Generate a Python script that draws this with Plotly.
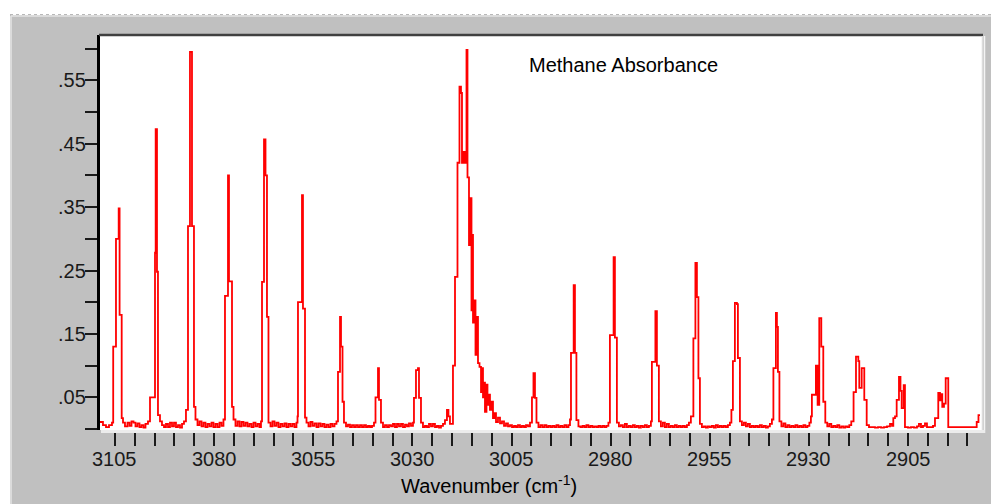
import plotly.graph_objects as go

# ---- data (wavenumber in cm-1, absorbance) ----
WAVENUMBER = [
    3108.78, 3108.03, 3107.27, 3106.51, 3105.76, 3105.45, 3104.75, 3104.07, 3103.84, 3103.31,
    3102.98, 3102.48, 3101.85, 3101.34, 3100.84, 3100.33, 3099.83, 3099.33, 3098.82, 3098.32,
    3097.81, 3097.31, 3096.68, 3096.17, 3094.91, 3094.74, 3094.41, 3094.16, 3093.65, 3093.15,
    3092.64, 3092.14, 3091.63, 3091.13, 3090.62, 3090.12, 3089.62, 3089.11, 3088.61, 3088.10,
    3087.60, 3087.10, 3086.59, 3086.09, 3085.58, 3085.08, 3084.70, 3084.19, 3083.69, 3083.18,
    3082.68, 3082.18, 3081.67, 3081.17, 3080.66, 3080.16, 3079.65, 3079.15, 3078.64, 3078.14,
    3077.64, 3077.26, 3076.50, 3076.25, 3075.49, 3075.11, 3074.61, 3074.10, 3073.60, 3073.10,
    3072.59, 3072.09, 3071.58, 3071.08, 3070.57, 3070.07, 3069.56, 3069.06, 3068.56, 3068.18,
    3067.92, 3067.42, 3067.04, 3066.67, 3066.29, 3065.78, 3065.28, 3064.77, 3064.27, 3063.77,
    3063.26, 3062.76, 3062.25, 3061.75, 3061.24, 3060.74, 3060.24, 3059.73, 3059.23, 3058.97,
    3058.85, 3057.84, 3057.59, 3057.08, 3056.70, 3056.20, 3055.70, 3055.19, 3054.69, 3054.18,
    3053.68, 3053.17, 3052.67, 3052.17, 3051.66, 3051.16, 3050.65, 3050.15, 3049.64, 3049.14,
    3048.76, 3048.25, 3048.00, 3047.62, 3047.25, 3046.74, 3046.24, 3045.73, 3045.23, 3044.72,
    3044.22, 3043.72, 3043.21, 3042.71, 3042.20, 3041.70, 3041.19, 3040.69, 3040.19, 3039.68,
    3039.30, 3038.67, 3038.42, 3037.92, 3037.41, 3036.91, 3036.40, 3035.90, 3035.39, 3034.89,
    3034.39, 3033.88, 3033.38, 3032.87, 3032.37, 3031.86, 3031.36, 3030.86, 3030.35, 3029.85,
    3029.60, 3029.09, 3028.59, 3028.33, 3027.83, 3027.33, 3026.82, 3026.32, 3025.81, 3025.31,
    3024.81, 3024.30, 3023.80, 3023.29, 3022.79, 3022.28, 3021.78, 3021.28, 3020.90, 3020.52,
    3019.76, 3019.25, 3018.62, 3018.12, 3017.74, 3017.49, 3017.11, 3016.73, 3016.35, 3016.10,
    3015.72, 3015.34, 3015.09, 3014.96, 3014.71, 3014.33, 3014.08, 3013.70, 3013.45, 3013.07,
    3012.69, 3012.44, 3012.19, 3011.94, 3011.69, 3011.31, 3011.06, 3010.68, 3010.43, 3010.05,
    3009.67, 3009.29, 3008.91, 3008.41, 3007.90, 3007.40, 3006.89, 3006.39, 3005.89, 3005.38,
    3004.88, 3004.37, 3003.87, 3003.37, 3002.86, 3002.36, 3001.85, 3001.35, 3000.84, 3000.34,
    2999.84, 2999.46, 2999.08, 2998.70, 2998.20, 2997.69, 2997.19, 2996.68, 2996.18, 2995.68,
    2995.17, 2994.67, 2994.16, 2993.66, 2993.15, 2992.65, 2992.15, 2991.64, 2991.14, 2990.63,
    2990.25, 2990.00, 2989.32, 2989.00, 2988.63, 2988.12, 2987.62, 2987.11, 2986.61, 2986.11,
    2985.60, 2985.10, 2984.59, 2984.09, 2983.58, 2983.08, 2982.58, 2982.07, 2981.57, 2981.06,
    2980.56, 2980.18, 2979.25, 2978.92, 2978.42, 2977.91, 2977.41, 2976.90, 2976.40, 2975.90,
    2975.39, 2974.89, 2974.38, 2973.88, 2973.37, 2972.87, 2972.37, 2971.86, 2971.36, 2970.85,
    2970.35, 2969.84, 2969.59, 2968.71, 2968.33, 2967.83, 2967.32, 2966.82, 2966.31, 2965.81,
    2965.30, 2964.80, 2964.29, 2963.79, 2963.29, 2962.78, 2962.28, 2961.77, 2961.27, 2960.76,
    2960.26, 2959.76, 2959.13, 2958.62, 2958.24, 2957.86, 2957.48, 2956.98, 2956.47, 2955.97,
    2955.47, 2954.96, 2954.46, 2953.95, 2953.45, 2952.94, 2952.44, 2951.93, 2951.43, 2950.93,
    2950.42, 2949.92, 2949.54, 2949.16, 2948.66, 2948.15, 2947.90, 2947.39, 2946.89, 2946.38,
    2945.88, 2945.38, 2944.87, 2944.37, 2943.86, 2943.36, 2942.85, 2942.35, 2941.85, 2941.34,
    2940.84, 2940.33, 2939.83, 2939.32, 2938.95, 2938.32, 2938.06, 2937.81, 2937.43, 2936.93,
    2936.42, 2935.92, 2935.41, 2934.91, 2934.41, 2933.90, 2933.40, 2932.89, 2932.39, 2931.88,
    2931.38, 2930.88, 2930.37, 2929.87, 2929.49, 2929.24, 2928.23, 2927.80, 2927.38, 2926.87,
    2926.37, 2925.86, 2925.36, 2924.85, 2924.35, 2923.85, 2923.34, 2922.84, 2922.33, 2921.83,
    2921.32, 2920.82, 2920.31, 2919.81, 2919.31, 2918.73, 2918.12, 2917.54, 2917.29, 2916.68,
    2916.03, 2915.42, 2914.84, 2914.08, 2913.33, 2912.57, 2911.81, 2911.06, 2910.30, 2909.54,
    2909.04, 2908.71, 2908.28, 2907.86, 2907.28, 2906.90, 2906.60, 2906.09, 2905.77, 2905.01,
    2904.25, 2903.50, 2902.74, 2902.24, 2901.73, 2901.23, 2900.72, 2900.22, 2899.46, 2898.70,
    2898.20, 2897.37, 2896.94, 2896.69, 2896.36, 2895.93, 2895.50, 2894.85, 2893.92, 2892.91,
    2891.90, 2890.89, 2889.88, 2888.87, 2887.68, 2887.23, 2886.85,
]

ABSORBANCE = [
    0.011, 0.006, 0.003, 0.006, 0.010, 0.130, 0.300, 0.348, 0.180, 0.017,
    0.010, 0.004, 0.010, 0.005, 0.012, 0.010, 0.004, 0.009, 0.003, 0.006,
    0.002, 0.008, 0.012, 0.050, 0.278, 0.473, 0.248, 0.022, 0.012, 0.006,
    0.003, 0.008, 0.003, 0.010, 0.004, 0.010, 0.003, 0.006, 0.002, 0.008,
    0.012, 0.030, 0.320, 0.595, 0.320, 0.035, 0.015, 0.006, 0.012, 0.004,
    0.010, 0.003, 0.008, 0.004, 0.010, 0.003, 0.008, 0.003, 0.010, 0.005,
    0.015, 0.210, 0.400, 0.233, 0.035, 0.015, 0.005, 0.012, 0.004, 0.011,
    0.005, 0.010, 0.004, 0.008, 0.003, 0.010, 0.004, 0.008, 0.003, 0.012,
    0.232, 0.457, 0.400, 0.177, 0.010, 0.004, 0.012, 0.005, 0.010, 0.003,
    0.008, 0.004, 0.009, 0.003, 0.008, 0.004, 0.008, 0.003, 0.010, 0.020,
    0.200, 0.369, 0.190, 0.018, 0.010, 0.004, 0.011, 0.005, 0.009, 0.003,
    0.009, 0.004, 0.008, 0.003, 0.007, 0.003, 0.008, 0.004, 0.008, 0.012,
    0.090, 0.177, 0.130, 0.043, 0.010, 0.004, 0.007, 0.003, 0.006, 0.003,
    0.006, 0.003, 0.006, 0.003, 0.006, 0.003, 0.005, 0.003, 0.005, 0.010,
    0.050, 0.096, 0.046, 0.010, 0.003, 0.006, 0.003, 0.006, 0.004, 0.008,
    0.003, 0.008, 0.004, 0.008, 0.003, 0.007, 0.004, 0.009, 0.005, 0.010,
    0.049, 0.093, 0.096, 0.049, 0.010, 0.003, 0.005, 0.003, 0.008, 0.004,
    0.008, 0.003, 0.005, 0.002, 0.005, 0.008, 0.014, 0.030, 0.020, 0.008,
    0.100, 0.240, 0.420, 0.540, 0.530, 0.420, 0.437, 0.420, 0.598, 0.397,
    0.290, 0.364, 0.187, 0.306, 0.168, 0.203, 0.117, 0.177, 0.104, 0.098,
    0.058, 0.096, 0.050, 0.073, 0.027, 0.070, 0.038, 0.054, 0.030, 0.043,
    0.017, 0.025, 0.011, 0.018, 0.009, 0.012, 0.005, 0.009, 0.004, 0.006,
    0.003, 0.005, 0.003, 0.006, 0.003, 0.005, 0.003, 0.006, 0.004, 0.010,
    0.050, 0.088, 0.049, 0.010, 0.003, 0.006, 0.003, 0.006, 0.003, 0.005,
    0.003, 0.005, 0.003, 0.006, 0.003, 0.005, 0.003, 0.006, 0.003, 0.006,
    0.015, 0.120, 0.227, 0.120, 0.014, 0.004, 0.003, 0.005, 0.003, 0.006,
    0.003, 0.005, 0.003, 0.004, 0.003, 0.005, 0.003, 0.005, 0.003, 0.005,
    0.010, 0.148, 0.271, 0.144, 0.010, 0.004, 0.006, 0.003, 0.008, 0.003,
    0.005, 0.003, 0.006, 0.003, 0.005, 0.002, 0.005, 0.003, 0.006, 0.003,
    0.005, 0.012, 0.106, 0.186, 0.100, 0.012, 0.004, 0.010, 0.003, 0.008,
    0.003, 0.005, 0.003, 0.006, 0.003, 0.005, 0.003, 0.005, 0.003, 0.006,
    0.010, 0.020, 0.143, 0.262, 0.208, 0.080, 0.008, 0.003, 0.004, 0.002,
    0.004, 0.003, 0.005, 0.002, 0.006, 0.003, 0.005, 0.003, 0.005, 0.003,
    0.006, 0.010, 0.030, 0.107, 0.199, 0.197, 0.112, 0.012, 0.006, 0.010,
    0.004, 0.008, 0.003, 0.005, 0.003, 0.005, 0.003, 0.006, 0.003, 0.005,
    0.002, 0.004, 0.008, 0.015, 0.096, 0.183, 0.161, 0.090, 0.012, 0.004,
    0.009, 0.003, 0.006, 0.003, 0.005, 0.003, 0.006, 0.003, 0.005, 0.003,
    0.006, 0.003, 0.005, 0.010, 0.020, 0.054, 0.100, 0.038, 0.175, 0.130,
    0.043, 0.010, 0.004, 0.008, 0.003, 0.005, 0.003, 0.006, 0.002, 0.004,
    0.002, 0.004, 0.003, 0.006, 0.012, 0.058, 0.114, 0.107, 0.065, 0.096,
    0.046, 0.006, 0.003, 0.003, 0.002, 0.003, 0.002, 0.003, 0.004, 0.008,
    0.005, 0.017, 0.020, 0.046, 0.082, 0.060, 0.033, 0.069, 0.003, 0.002,
    0.003, 0.002, 0.004, 0.008, 0.003, 0.005, 0.009, 0.003, 0.003, 0.005,
    0.017, 0.057, 0.045, 0.055, 0.035, 0.040, 0.080, 0.003, 0.003, 0.003,
    0.003, 0.003, 0.003, 0.003, 0.011, 0.022, 0.022,
]

# labelled ticks (every 25 cm-1 / every 0.1 absorbance); unlabelled ticks every 5 cm-1 / 0.05
X_TICK_VALUES = [3105, 3080, 3055, 3030, 3005, 2980, 2955, 2930, 2905]
X_TICK_LABELS = ["3105", "3080", "3055", "3030", "3005", "2980", "2955", "2930", "2905"]
X_MINOR_STEP = 5
Y_TICK_VALUES = [0.05, 0.15, 0.25, 0.35, 0.45, 0.55]
Y_TICK_LABELS = [".05", ".15", ".25", ".35", ".45", ".55"]
Y_MINOR_STEP = 0.05

TITLE = "Methane Absorbance"
X_TITLE = "Wavenumber (cm<sup>-1</sup>)"

FONT = "Arial, 'Liberation Sans', sans-serif"
W, H = 991, 504
L, R, T, B = 100, 9, 35, 74
PW, PH = W - L - R, H - T - B


def px(xp):
    return (xp - L) / PW


def py(yp):
    return (H - B - yp) / PH


fig = go.Figure()
fig.add_trace(go.Scatter(
    x=WAVENUMBER, y=ABSORBANCE, mode="lines",
    line=dict(color="#ff0000", width=1.8, shape="hv"),
    hoverinfo="skip", showlegend=False,
))

shapes = [
    # white page margins (top and left)
    dict(type="rect", xref="paper", yref="paper", x0=px(0), x1=px(W), y0=py(15), y1=py(0),
         fillcolor="white", line=dict(width=0), layer="below"),
    dict(type="rect", xref="paper", yref="paper", x0=px(0), x1=px(10), y0=py(H), y1=py(0),
         fillcolor="white", line=dict(width=0), layer="below"),
    dict(type="line", xref="paper", yref="paper", x0=px(10), x1=px(W), y0=py(14.5), y1=py(14.5),
         line=dict(color="#b8b8b8", width=1, dash="dot"), layer="below"),
    dict(type="line", xref="paper", yref="paper", x0=px(11), x1=px(W), y0=py(16), y1=py(16),
         line=dict(color="#e4e4e4", width=1.5), layer="below"),
    dict(type="line", xref="paper", yref="paper", x0=px(11), x1=px(11), y0=py(H), y1=py(16),
         line=dict(color="#e4e4e4", width=1.5), layer="below"),
    # plot frame: dark top, light right / bottom
    dict(type="line", xref="paper", yref="paper", x0=px(99), x1=px(983), y0=1, y1=1,
         line=dict(color="#404040", width=2.5), layer="above"),
    dict(type="line", xref="paper", yref="paper", x0=px(982.5), x1=px(982.5), y0=py(433), y1=py(36),
         line=dict(color="#dcdcdc", width=1.5), layer="above"),
    dict(type="line", xref="paper", yref="paper", x0=px(984.5), x1=px(984.5), y0=py(433), y1=py(36),
         line=dict(color="#f4f4f4", width=1.5), layer="above"),
    dict(type="line", xref="paper", yref="paper", x0=px(101), x1=px(985), y0=py(431.5), y1=py(431.5),
         line=dict(color="#ececec", width=3), layer="above"),
]

annotations = [
    dict(text=TITLE, xref="paper", yref="paper", x=px(623.5), y=py(65),
         xanchor="center", yanchor="middle", showarrow=False,
         font=dict(family=FONT, size=20, color="#000000")),
    dict(text=X_TITLE, xref="paper", yref="paper", x=px(489), y=py(484),
         xanchor="center", yanchor="middle", showarrow=False,
         font=dict(family=FONT, size=20, color="#000000")),
]
# tick labels placed at their data values through the axes
for v, t in zip(X_TICK_VALUES, X_TICK_LABELS):
    annotations.append(dict(text=t, xref="x", yref="paper", x=v, y=py(459),
                            xanchor="center", yanchor="middle", showarrow=False,
                            font=dict(family=FONT, size=20, color="#1a1a1a")))
for v, t in zip(Y_TICK_VALUES, Y_TICK_LABELS):
    annotations.append(dict(text=t, xref="paper", yref="y", x=px(87.5), y=v,
                            xanchor="right", yanchor="middle", showarrow=False,
                            font=dict(family=FONT, size=20, color="#1a1a1a")))

fig.update_layout(
    width=W, height=H,
    margin=dict(l=L, r=R, t=T, b=B, pad=0),
    paper_bgcolor="#c0c0c0",
    plot_bgcolor="white",
    font=dict(family=FONT, size=20, color="#1a1a1a"),
    showlegend=False,
    shapes=shapes,
    annotations=annotations,
    xaxis=dict(
        range=[3108.78, 2886.34],
        tickmode="array", tickvals=X_TICK_VALUES, showticklabels=False,
        ticks="outside", ticklen=15, tickwidth=2, tickcolor="#1a1a1a",
        minor=dict(ticks="outside", ticklen=15, tickwidth=2, tickcolor="#1a1a1a",
                   tick0=X_TICK_VALUES[0], dtick=X_MINOR_STEP, showgrid=False),
        showgrid=False, zeroline=False, showline=False,
        fixedrange=True,
    ),
    yaxis=dict(
        range=[-0.0016, 0.6215],
        tickmode="array", tickvals=Y_TICK_VALUES, showticklabels=False,
        ticks="outside", ticklen=12, tickwidth=2, tickcolor="#1a1a1a",
        minor=dict(ticks="outside", ticklen=12, tickwidth=2, tickcolor="#1a1a1a",
                   tick0=0, dtick=Y_MINOR_STEP, showgrid=False),
        showgrid=False, zeroline=False,
        showline=True, linecolor="#000000", linewidth=2.5,
        fixedrange=True,
    ),
)

fig.write_html(
    "out.html",
    config={"displayModeBar": False},
    post_script="document.body.style.margin='0';document.body.style.overflow='hidden';",
)
